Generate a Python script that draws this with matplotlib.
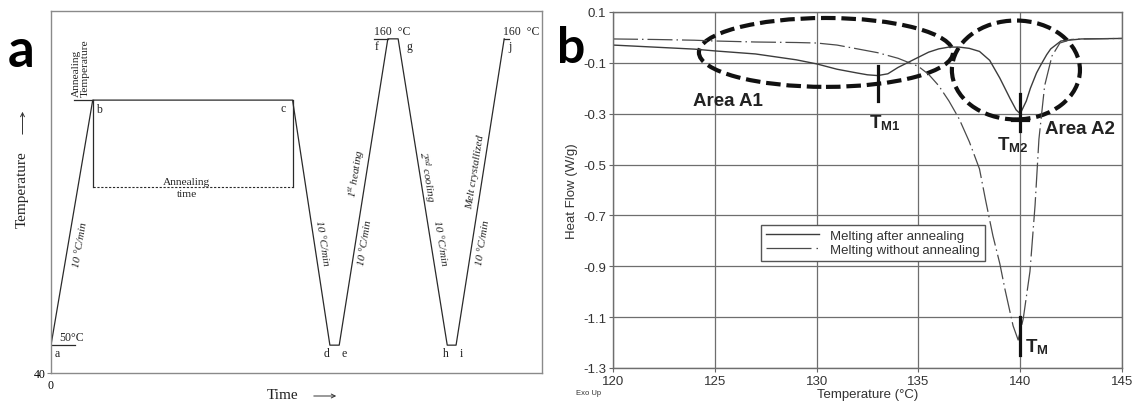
import matplotlib
matplotlib.use('Agg')
import matplotlib.pyplot as plt
from matplotlib.patches import Ellipse
from matplotlib.lines import Line2D

plt.rcParams['mathtext.fontset'] = 'custom'
plt.rcParams['mathtext.rm'] = 'Liberation Serif'
plt.rcParams['mathtext.it'] = 'Liberation Serif:italic'
plt.rcParams['mathtext.bf'] = 'Liberation Sans:bold'

# ---------------- Panel a data: thermal programme ----------------
prog_labels = ['a', 'b', 'c', 'd', 'e', 'f', 'g', 'h', 'i', 'j']
prog_time = [0, 8.5, 49.2, 56.8, 58.7, 68.6, 70.7, 80.7, 82.5, 92.3]
prog_temp = [50, 138, 138, 50, 50, 160, 160, 50, 50, 160]
anneal_bottom = 106.8

# ---------------- Panel b data: DSC curves ----------------
t_after = [120, 122, 124, 125, 127, 129, 130, 131, 132, 132.5, 133, 133.5, 134,
           134.5, 135, 135.5, 136, 136.5, 137, 137.5, 138, 138.5, 139, 139.5,
           139.8, 140, 140.3, 140.5, 140.8, 141, 141.3, 141.5, 142, 143, 145]
hf_after = [-0.030, -0.038, -0.046, -0.053, -0.065, -0.088, -0.104, -0.125, -0.140,
            -0.147, -0.150, -0.143, -0.118, -0.098, -0.078, -0.058, -0.045, -0.038,
            -0.038, -0.043, -0.055, -0.090, -0.160, -0.240, -0.285, -0.300, -0.250,
            -0.200, -0.140, -0.110, -0.068, -0.045, -0.014, -0.006, -0.004]
t_without = [120, 122, 124, 125, 127, 129, 130, 131, 132, 133, 134, 135, 135.5, 136,
             136.5, 137, 137.5, 138, 138.3, 138.66, 139, 139.25, 139.65, 139.9,
             140.15, 140.48, 140.73, 140.92, 141.2, 141.56, 141.95, 142.5, 143, 145]
hf_without = [-0.006, -0.008, -0.011, -0.014, -0.018, -0.020, -0.022, -0.030, -0.045,
              -0.060, -0.082, -0.114, -0.145, -0.190, -0.250, -0.320, -0.410, -0.517,
              -0.640, -0.780, -0.890, -0.990, -1.134, -1.190, -1.106, -0.920, -0.660,
              -0.400, -0.190, -0.073, -0.022, -0.008, -0.006, -0.004]
x_ticks = [120, 125, 130, 135, 140, 145]
y_ticks = [0.1, -0.1, -0.3, -0.5, -0.7, -0.9, -1.1, -1.3]
y_tick_labels = ['0.1', '-0.1', '-0.3', '-0.5', '-0.7', '-0.9', '-1.1', '-1.3']
series_names = ['Melting after annealing', 'Melting without annealing']
tm1, tm2, tm = 133.0, 140.0, 140.0

W, H = 1137, 406
fig = plt.figure(figsize=(W / 100, H / 100), dpi=100)

SERIF = 'Liberation Serif'
SANS = 'Liberation Sans'
LC = '#2a2a2a'

# ================= Panel a =================
ax = fig.add_axes([51 / W, 1 - 374 / H, (542 - 51) / W, (374 - 12) / H])
ax.set_xlim(0, 100)
ax.set_ylim(40, 170)
for s in ax.spines.values():
    s.set_color('#8a8a8a')
    s.set_linewidth(1.0)
ax.set_yticks([40])
ax.set_yticklabels(['40'], fontfamily=SERIF, fontsize=8.5)
ax.set_xticks([0])
ax.set_xticklabels(['0'], fontfamily=SERIF, fontsize=8.5)
ax.tick_params(axis='y', length=3, color='#8a8a8a', pad=1)
ax.tick_params(axis='x', length=0, pad=4)

ax.plot(prog_time, prog_temp, color=LC, lw=0.9)
# auxiliary lines
ax.plot([0, 4.9], [50, 50], color=LC, lw=0.9)
ax.plot([4.7, prog_time[1]], [138, 138], color=LC, lw=0.9)
ax.plot([65.8, prog_time[5]], [160, 160], color=LC, lw=0.9)
ax.plot([prog_time[9], 93.3], [160, 160], color=LC, lw=0.9)
ax.plot([prog_time[1], prog_time[1]], [138, anneal_bottom], color=LC, lw=0.9)
ax.plot([prog_time[2], prog_time[2]], [138, anneal_bottom], color=LC, lw=0.9)
ax.plot([prog_time[1], prog_time[2]], [anneal_bottom, anneal_bottom], color=LC,
        lw=0.8, ls=(0, (2, 1.5)))

tk = dict(fontfamily=SERIF, fontsize=8.5, color='#222')
ax.text(4.1, 50.6, '50°C', ha='center', va='bottom', **tk)
ax.text(1.2, 47.2, 'a', ha='center', va='center', **tk)
ax.text(6.1, 139.5, 'Annealing\nTemperature', rotation=90, ha='center', va='bottom',
        multialignment='left', linespacing=1.05, fontfamily=SERIF, fontsize=8.2, color='#222')
ax.text(9.8, 134.8, 'b', ha='center', va='center', **tk)
ax.text(47.25, 135.2, 'c', ha='center', va='center', **tk)
ax.text(27.7, 107.2, 'Annealing', ha='center', va='bottom', fontfamily=SERIF, fontsize=8.2, color='#222')
ax.text(27.7, 106.0, 'time', ha='center', va='top', fontfamily=SERIF, fontsize=8.2, color='#222')
ax.text(56.2, 47.2, 'd', ha='center', va='center', **tk)
ax.text(59.7, 47.2, 'e', ha='center', va='center', **tk)
ax.text(80.4, 47.2, 'h', ha='center', va='center', **tk)
ax.text(83.5, 47.2, 'i', ha='center', va='center', **tk)
ax.text(66.4, 157.4, 'f', ha='center', va='center', **tk)
ax.text(72.9, 157.4, 'g', ha='center', va='center', **tk)
ax.text(93.4, 157.6, 'j', ha='center', va='center', **tk)
ax.text(69.5, 160.8, '160  °C', ha='center', va='bottom', **tk)
ax.text(95.8, 160.8, '160  °C', ha='center', va='bottom', **tk)

it = dict(fontfamily=SERIF, fontsize=8, style='italic', color='#222',
          ha='center', va='center', rotation_mode='anchor')
ax.text(5.9, 86.3, '10 °C/min', rotation=80.3, **it)
ax.text(55.2, 87.0, '10 °C/min', rotation=-81.2, **it)
ax.text(63.95, 87.0, '10 °C/min', rotation=80.9, **it)
ax.text(79.2, 87.0, '10 °C/min', rotation=-80.9, **it)
ax.text(88.0, 87.0, '10 °C/min', rotation=81.1, **it)
ax.text(62.3, 111.8, r'1$^{st}$ heating', rotation=80.9, **it)
ax.text(76.4, 110.7, r'2$^{nd}$ cooling', rotation=-80.9, **it)
ax.text(86.4, 112.5, 'Melt crystallized', rotation=81.1, **it)

fig.text(22 / W, 1 - 190 / H, 'Temperature', rotation=90, ha='center', va='center',
         fontfamily=SERIF, fontsize=11, color='#222')
fig.text(283 / W, 1 - 396 / H, 'Time', ha='center', va='center',
         fontfamily=SERIF, fontsize=11, color='#222')
fig.add_artist(matplotlib.patches.FancyArrowPatch(
    (22.5 / W, 1 - 138 / H), (22.5 / W, 1 - 110 / H), transform=fig.transFigure,
    arrowstyle='->', mutation_scale=7, lw=0.7, color='#333'))
fig.add_artist(matplotlib.patches.FancyArrowPatch(
    (311 / W, 1 - 397 / H), (339 / W, 1 - 397 / H), transform=fig.transFigure,
    arrowstyle='->', mutation_scale=7, lw=0.7, color='#333'))

fig.text(8 / W, 1 - 67 / H, 'a', fontfamily='Lato', fontweight='bold', fontsize=38,
         ha='left', va='baseline', color='black')

# ================= Panel b =================
bx = fig.add_axes([613 / W, 1 - 369 / H, (1122 - 613) / W, (369 - 13) / H])
bx.set_xlim(120, 145)
bx.set_ylim(-1.3, 0.1)
bx.set_xticks(x_ticks)
bx.set_xticklabels([str(v) for v in x_ticks], fontfamily=SANS, fontsize=9.5, color='#333')
bx.set_yticks(y_ticks)
bx.set_yticklabels(y_tick_labels, fontfamily=SANS, fontsize=9.5, color='#333')
bx.tick_params(length=3, color='#666', pad=2)
bx.grid(True, color='#6e6e6e', lw=0.9)
bx.set_axisbelow(True)
for s in bx.spines.values():
    s.set_color('#6e6e6e')
    s.set_linewidth(1.0)

dd = (20, 3.2, 1.2, 3.2)
bx.plot(t_after, hf_after, color='#3c3c3c', lw=1.0)
bx.plot(t_without, hf_without, color='#4a4a4a', lw=0.9, dashes=dd)

# annotation ellipses
bx.add_patch(Ellipse((130.46, -0.059), 12.48, 0.271, fill=False, edgecolor='#111',
                     lw=3.0, ls=(0, (3.5, 1.4))))
bx.add_patch(Ellipse((139.79, -0.128), 6.29, 0.389, fill=False, edgecolor='#111',
                     lw=3.0, ls=(0, (3.5, 1.4))))
# melting point markers
bx.plot([tm1, tm1], [-0.112, -0.25], color='#111', lw=2.3)
bx.plot([tm2, tm2], [-0.222, -0.367], color='#111', lw=2.3)
bx.plot([tm2 - 0.4, tm2 + 0.4], [-0.325, -0.325], color='#111', lw=2.3)
bx.plot([tm, tm], [-1.098, -1.25], color='#111', lw=2.3)

lb = dict(fontfamily=SANS, fontweight='bold', fontsize=13.5, color='#222')
bx.text(125.65, -0.25, 'Area A1', ha='center', va='center', **lb)
bx.text(142.92, -0.36, 'Area A2', ha='center', va='center', **lb)
bx.text(132.56, -0.352, r'$\mathbf{T}_{\mathbf{M1}}$', ha='left', va='baseline', **lb)
bx.text(138.86, -0.438, r'$\mathbf{T}_{\mathbf{M2}}$', ha='left', va='baseline', **lb)
bx.text(140.24, -1.236, r'$\mathbf{T}_{\mathbf{M}}$', ha='left', va='baseline', **lb)

handles = [Line2D([], [], color='#3c3c3c', lw=1.0),
           Line2D([], [], color='#4a4a4a', lw=0.9, dashes=(36, 4, 1.2, 4))]
leg = bx.legend(handles, series_names, loc='upper left', bbox_to_anchor=(0.291, 0.402),
                borderaxespad=0, fancybox=False, framealpha=1, edgecolor='#555',
                prop={'family': SANS, 'size': 9.5}, handlelength=4.0,
                handletextpad=0.9, labelspacing=0.15, borderpad=0.35)
leg.get_frame().set_linewidth(1.0)
for t in leg.get_texts():
    t.set_color('#333')

fig.text(572 / W, 1 - 191 / H, 'Heat Flow (W/g)', rotation=90, ha='center', va='center',
         fontfamily=SANS, fontsize=9.5, color='#333')
fig.text(868 / W, 1 - 395 / H, 'Temperature (°C)', ha='center', va='center',
         fontfamily=SANS, fontsize=9.5, color='#333')
fig.text(589 / W, 1 - 394 / H, 'Exo Up', ha='center', va='center',
         fontfamily=SANS, fontsize=5.5, color='#333')
fig.text(557 / W, 1 - 63 / H, 'b', fontfamily='Lato', fontweight='bold', fontsize=36,
         ha='left', va='baseline', color='black')

fig.savefig('out.png', dpi=100)
